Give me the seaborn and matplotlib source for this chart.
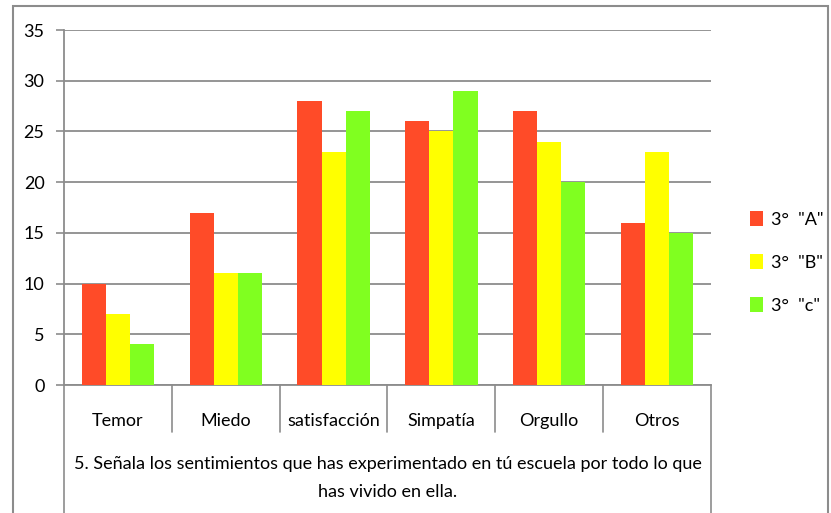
import pandas as pd
import matplotlib.pyplot as plt
import seaborn as sns
from matplotlib.patches import Rectangle

# Chart data
categories = ['Temor', 'Miedo', 'satisfacción', 'Simpatía', 'Orgullo', 'Otros']
series_names = ['3°  "A"', '3°  "B"', '3°  "c"']
values_a = [10, 17, 28, 26, 27, 16]
values_b = [7, 11, 23, 25, 24, 23]
values_c = [4, 11, 27, 29, 20, 15]
y_ticks = [0, 5, 10, 15, 20, 25, 30, 35]
title_text = ('5. Señala los sentimientos que has experimentado en tú escuela por todo lo que\n'
              'has vivido en ella.')

colors = ['#FF4B28', '#FFFF00', '#80FF20']

# Long-form table for seaborn
rows = []
for name, vals in zip(series_names, [values_a, values_b, values_c]):
    for cat, v in zip(categories, vals):
        rows.append({'cat': cat, 'grupo': name, 'valor': v})
df = pd.DataFrame(rows)

sns.set_style('white')
plt.rcParams['font.family'] = ['Lato', 'DejaVu Sans']
plt.rcParams['text.color'] = 'black'
plt.rcParams['xtick.color'] = 'black'
plt.rcParams['ytick.color'] = 'black'

fig = plt.figure(figsize=(8.31, 5.13), dpi=100)
ax = fig.add_axes([0.077, 0.2495, 0.7786, 0.692])

sns.barplot(data=df, x='cat', y='valor', hue='grupo', order=categories,
            hue_order=series_names, palette=colors, width=0.67,
            saturation=1, errorbar=None, ax=ax, zorder=3, linewidth=0)

ax.set_ylim(0, 35)
ax.set_xlim(-0.5, len(categories) - 0.5)
ax.set_yticks(y_ticks)
ax.set_yticklabels([str(t) for t in y_ticks], fontsize=13)
ax.yaxis.grid(True, color='#8c8c8c', linewidth=1.3, zorder=0)
ax.set_axisbelow(True)
ax.tick_params(axis='y', length=6, width=1.2, color='#8c8c8c', left=True, pad=8,
               labelcolor='black')
ax.tick_params(axis='x', length=0, labelsize=13, pad=20, labelcolor='black')
ax.set_xlabel('')
ax.set_ylabel('')

for side in ['top', 'right']:
    ax.spines[side].set_visible(False)
for side in ['left', 'bottom']:
    ax.spines[side].set_color('#8c8c8c')
    ax.spines[side].set_linewidth(1.3)

# table-like separators under the axis
tr = ax.get_xaxis_transform()
for b in range(1, len(categories)):
    ax.plot([b - 0.5, b - 0.5], [0, -0.132], transform=tr, color='#8c8c8c',
            linewidth=1.2, clip_on=False)
for b in [-0.5, len(categories) - 0.5]:
    ax.plot([b, b], [0, -0.36], transform=tr, color='#8c8c8c',
            linewidth=1.2, clip_on=False)

ax.text(0.5, -0.262, title_text, transform=ax.transAxes, ha='center', va='center',
        fontsize=13, linespacing=1.85, color='black')

leg = ax.legend(loc='center left', bbox_to_anchor=(1.035, 0.345), frameon=False,
                fontsize=13, handlelength=0.75, handleheight=0.9, handletextpad=0.4,
                labelspacing=1.45)

fig.patches.append(Rectangle((0.016, -0.01), 0.98, 0.998, transform=fig.transFigure,
                             fill=False, edgecolor='#8c8c8c', linewidth=1.5))

fig.savefig('out.png', dpi=100)
